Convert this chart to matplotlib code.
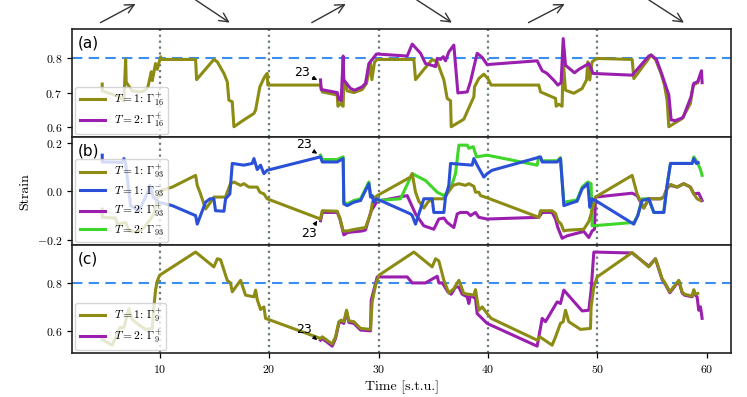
import matplotlib
matplotlib.use("Agg")
import matplotlib.pyplot as plt

plt.rcParams["font.family"] = "serif"
plt.rcParams["font.serif"] = ["cmr10"]
plt.rcParams["mathtext.fontset"] = "cm"
plt.rcParams["axes.formatter.use_mathtext"] = True

# ---- data ----
# panel (a): Gamma_16^+
t_a1 = [4.76, 4.76, 6.29, 6.74, 6.90, 6.95, 7.50, 8.26, 8.72, 8.94, 9.24, 9.33, 9.63, 9.79, 10.09, 10.15,
        13.29, 13.38, 14.96, 15.27, 15.88, 16.18, 16.33, 16.64, 16.79, 17.70, 18.62, 18.77, 19.16, 19.38,
        19.59, 19.83, 19.89, 24.70, 24.86, 26.23, 26.29, 26.53, 26.77, 26.83, 27.14, 27.75, 28.51, 28.90,
        29.27, 29.39, 29.64, 29.88, 33.23, 33.38, 34.90, 35.36, 35.97, 36.27, 36.58, 36.64, 37.79, 38.71,
        38.77, 39.16, 39.62, 39.99, 40.29, 44.64, 44.80, 46.17, 46.23, 46.47, 46.77, 46.87, 47.08, 47.84,
        48.60, 49.00, 49.12, 49.30, 49.51, 49.91, 53.17, 53.32, 54.69, 54.90, 55.30, 55.81, 56.12, 56.36,
        56.52, 57.73, 58.49, 58.74, 59.16, 59.20]
v_a1 = [0.725, 0.705, 0.688, 0.676, 0.797, 0.730, 0.705, 0.702, 0.707, 0.717, 0.761, 0.735, 0.785, 0.768, 0.805, 0.797,
        0.797, 0.738, 0.797, 0.790, 0.756, 0.732, 0.678, 0.673, 0.600, 0.620, 0.639, 0.649, 0.717, 0.732,
        0.746, 0.756, 0.722, 0.722, 0.702, 0.693, 0.660, 0.668, 0.660, 0.737, 0.705, 0.700, 0.709, 0.727,
        0.785, 0.738, 0.790, 0.797, 0.797, 0.738, 0.797, 0.790, 0.737, 0.683, 0.676, 0.600, 0.622, 0.688,
        0.717, 0.741, 0.754, 0.741, 0.722, 0.722, 0.702, 0.683, 0.660, 0.666, 0.660, 0.795, 0.707, 0.698,
        0.712, 0.737, 0.790, 0.737, 0.790, 0.800, 0.797, 0.741, 0.800, 0.810, 0.797, 0.756, 0.722, 0.678,
        0.600, 0.624, 0.668, 0.722, 0.729, 0.732]
t_a2 = [24.70, 24.76, 26.23, 26.38, 26.59, 26.77, 26.83, 27.44, 27.81, 28.51, 28.81, 29.12, 29.42, 29.82,
        32.62, 33.08, 33.84, 34.29, 35.05, 35.21, 35.36, 35.66, 35.91, 36.12, 36.42, 36.88, 37.25, 38.10,
        38.40, 39.01, 39.47, 39.92, 44.49, 44.95, 45.40, 46.07, 46.38, 46.68, 46.87, 47.08, 47.90, 48.30,
        49.21, 49.61, 53.17, 54.69, 54.90, 55.39, 55.91, 56.21, 56.52, 56.73, 57.12, 57.82, 58.55, 58.80,
        59.16, 59.50, 59.56]
v_a2 = [0.737, 0.709, 0.700, 0.680, 0.676, 0.807, 0.737, 0.712, 0.707, 0.717, 0.727, 0.785, 0.797, 0.813,
        0.807, 0.842, 0.815, 0.785, 0.778, 0.776, 0.800, 0.797, 0.805, 0.793, 0.819, 0.839, 0.699, 0.702,
        0.732, 0.815, 0.803, 0.782, 0.793, 0.764, 0.756, 0.734, 0.722, 0.729, 0.858, 0.780, 0.758, 0.768,
        0.785, 0.756, 0.751, 0.807, 0.810, 0.797, 0.751, 0.722, 0.693, 0.620, 0.618, 0.627, 0.688, 0.727,
        0.732, 0.764, 0.729]

# panel (b): Gamma_93^+ / Gamma_93^-
t_b1p = [4.76, 4.76, 5.98, 6.13, 6.90, 7.20, 7.96, 8.57, 9.18, 9.48, 9.79, 10.09, 11.16, 13.29, 13.44, 13.74,
         14.20, 14.66, 14.96, 16.03, 16.18, 16.48, 16.79, 17.40, 17.70, 18.16, 18.92, 19.16, 19.53, 19.83,
         24.70, 24.86, 26.23, 26.47, 26.77, 27.14, 27.75, 28.51, 28.81, 29.27, 29.45, 29.73, 29.88, 32.92,
         33.08, 33.38, 33.68, 34.14, 34.51, 34.90, 35.97, 36.27, 36.58, 36.82, 37.34, 37.95, 38.25, 38.71,
         38.86, 39.16, 39.32, 39.92, 44.64, 44.80, 45.86, 46.17, 46.38, 46.68, 46.93, 47.23, 48.75, 49.21,
         49.51, 49.82, 53.17, 53.62, 54.23, 54.69, 55.75, 56.06, 56.36, 56.67, 57.28, 57.88, 58.49, 58.80,
         59.10, 59.40]
v_b1p = [-0.072, -0.106, -0.109, -0.134, -0.127, -0.161, -0.168, -0.148, -0.113, -0.092, -0.030, 0.004, 0.018,
         0.066, 0.025, -0.010, -0.072, -0.044, -0.023, -0.023, -0.003, 0.032, 0.039, 0.025, 0.032, 0.018,
         0.018, -0.003, -0.010, -0.030, -0.113, -0.079, -0.081, -0.109, -0.162, -0.162, -0.156, -0.150,
         -0.148, -0.092, -0.044, -0.023, -0.017, 0.059, 0.073, -0.003, -0.040, -0.068, -0.044, -0.030,
         -0.030, -0.010, 0.011, 0.025, 0.032, 0.025, 0.032, 0.021, -0.003, -0.003, -0.017, -0.026, -0.106,
         -0.079, -0.079, -0.090, -0.120, -0.134, -0.162, -0.159, -0.155, -0.123, -0.079, -0.023, 0.066,
         -0.010, -0.068, -0.030, -0.030, -0.023, 0.011, 0.029, 0.018, 0.032, 0.018, -0.010, -0.030, -0.037]
t_b1m = [4.76, 4.76, 6.59, 6.74, 6.90, 7.35, 8.11, 8.72, 9.12, 9.42, 9.94, 11.16, 13.29, 13.44, 14.20, 14.60,
         14.96, 15.11, 15.88, 16.03, 16.42, 16.64, 17.70, 18.46, 18.62, 18.92, 19.22, 19.53, 19.83, 24.70,
         24.86, 26.23, 26.77, 26.83, 27.14, 27.75, 28.36, 28.81, 29.12, 29.27, 29.42, 29.57, 29.82, 32.92,
         33.08, 33.38, 34.14, 34.90, 35.05, 35.97, 36.12, 36.42, 36.58, 38.55, 38.71, 39.01, 39.62, 39.92,
         40.38, 44.80, 44.95, 46.32, 46.62, 46.93, 47.84, 48.14, 48.60, 49.12, 49.30, 49.51, 49.82, 53.32,
         53.68, 54.08, 54.69, 55.15, 56.06, 56.36, 56.67, 58.65, 58.80, 59.04, 59.20]
v_b1m = [0.149, 0.121, 0.119, 0.135, 0.115, -0.058, -0.079, -0.023, 0.025, -0.023, -0.044, -0.058, -0.099,
         -0.134, -0.044, -0.030, -0.030, -0.079, -0.081, -0.030, -0.010, 0.115, 0.108, 0.115, 0.135, 0.090,
         0.108, 0.073, 0.087, 0.142, 0.121, 0.121, 0.135, -0.051, -0.058, -0.044, -0.037, 0.004, 0.032,
         -0.023, -0.017, -0.044, -0.030, -0.092, -0.099, -0.134, -0.030, -0.030, -0.086, -0.086, -0.023,
         0.025, 0.115, 0.108, 0.135, 0.108, 0.059, 0.073, 0.087, 0.142, 0.121, 0.121, 0.135, -0.058, -0.044,
         -0.040, 0.011, 0.032, -0.065, -0.030, -0.037, -0.134, -0.099, -0.037, -0.030, -0.086, -0.086, 0.025,
         0.115, 0.115, 0.135, 0.115, 0.118]
t_b2p = [24.70, 24.86, 26.23, 26.47, 26.83, 27.20, 28.51, 28.81, 29.33, 29.88, 32.62, 33.38, 34.14, 35.05,
         35.51, 35.97, 36.27, 36.88, 37.19, 37.49, 38.10, 38.40, 38.86, 39.16, 39.92, 44.64, 44.95, 45.86,
         46.17, 46.38, 46.77, 47.23, 48.75, 49.21, 49.51, 49.73, 49.82, 53.17, 53.62, 54.23, 54.69, 55.75,
         56.06, 56.36, 56.67, 57.28, 57.88, 58.49, 58.80, 59.25, 59.56]
v_b2p = [-0.120, -0.086, -0.086, -0.112, -0.178, -0.168, -0.162, -0.158, -0.079, -0.040, -0.017, -0.092,
         -0.141, -0.155, -0.113, -0.109, -0.127, -0.148, -0.092, -0.086, -0.086, -0.099, -0.086, -0.106,
         -0.113, -0.106, -0.086, -0.086, -0.113, -0.148, -0.192, -0.182, -0.164, -0.189, -0.162, -0.155,
         -0.023, -0.007, -0.017, -0.068, -0.030, -0.030, -0.023, 0.015, 0.025, 0.018, 0.032, 0.018, -0.010,
         -0.007, -0.037]
t_b2m = [24.70, 24.86, 26.23, 26.77, 26.83, 27.14, 27.75, 28.36, 28.81, 29.12, 29.27, 29.88, 32.01, 33.08,
         34.29, 35.36, 35.97, 36.58, 37.03, 37.34, 38.10, 38.25, 38.65, 38.95, 39.92, 44.49, 44.64, 44.95,
         46.32, 46.62, 46.93, 47.84, 48.14, 48.60, 49.12, 49.42, 49.51, 53.32, 53.68, 54.08, 54.69, 55.15,
         56.06, 56.36, 56.67, 58.65, 58.80, 59.10, 59.41, 59.56]
v_b2m = [0.149, 0.131, 0.131, 0.142, -0.044, -0.051, -0.037, -0.030, 0.011, 0.039, -0.012, -0.037, -0.030,
         0.073, 0.045, -0.003, -0.017, 0.011, 0.073, 0.190, 0.190, 0.177, 0.184, 0.142, 0.149, 0.108, 0.142,
         0.126, 0.126, 0.139, -0.044, -0.037, -0.034, 0.018, 0.039, 0.032, -0.141, -0.127, -0.099, -0.030,
         -0.030, -0.086, -0.086, 0.025, 0.115, 0.115, 0.142, 0.121, 0.090, 0.066]

# panel (c): Gamma_9^+
t_c1 = [4.76, 5.68, 6.38, 6.74, 7.20, 7.50, 8.26, 8.72, 9.33, 9.48, 9.63, 9.79, 10.00, 13.29, 14.96, 15.27,
        15.57, 16.18, 16.48, 16.64, 17.40, 17.70, 17.85, 18.62, 18.77, 18.92, 19.22, 19.53, 19.68, 24.70,
        24.86, 25.77, 26.07, 26.38, 26.59, 26.83, 27.08, 27.29, 27.75, 28.36, 29.27, 29.42, 29.73, 30.03,
        33.23, 34.90, 35.21, 35.51, 35.97, 36.42, 36.88, 37.34, 37.79, 38.71, 38.86, 39.16, 39.47, 39.92,
        40.29, 44.49, 44.73, 45.86, 46.17, 46.62, 46.87, 47.08, 47.38, 48.45, 49.36, 49.42, 49.67, 49.97,
        53.17, 54.69, 55.30, 55.51, 55.91, 56.21, 56.61, 57.43, 57.73, 57.95, 58.65, 58.80, 58.95, 59.16]
v_c1 = [0.564, 0.540, 0.614, 0.614, 0.693, 0.647, 0.620, 0.606, 0.610, 0.700, 0.770, 0.808, 0.832, 0.929,
        0.867, 0.901, 0.897, 0.811, 0.800, 0.763, 0.811, 0.770, 0.749, 0.742, 0.770, 0.731, 0.689, 0.700,
        0.652, 0.568, 0.575, 0.545, 0.575, 0.638, 0.645, 0.638, 0.686, 0.642, 0.638, 0.610, 0.606, 0.721,
        0.790, 0.832, 0.929, 0.867, 0.901, 0.892, 0.811, 0.758, 0.776, 0.811, 0.756, 0.749, 0.772, 0.686,
        0.700, 0.672, 0.652, 0.561, 0.575, 0.540, 0.575, 0.631, 0.638, 0.686, 0.638, 0.606, 0.610, 0.700,
        0.783, 0.825, 0.927, 0.867, 0.901, 0.874, 0.818, 0.797, 0.763, 0.811, 0.763, 0.753, 0.745, 0.772,
        0.753, 0.756]
t_c2 = [24.70, 24.86, 25.77, 26.07, 26.38, 26.59, 26.83, 27.08, 27.29, 27.75, 28.36, 29.27, 29.33, 29.88,
        32.62, 33.08, 34.29, 35.36, 35.51, 35.82, 35.97, 36.33, 36.64, 37.03, 37.34, 37.64, 38.10, 38.25,
        38.40, 38.86, 39.01, 39.92, 44.49, 44.95, 45.25, 46.32, 46.62, 46.93, 48.60, 49.21, 49.42, 49.67,
        53.17, 54.69, 55.30, 55.51, 55.91, 56.21, 56.61, 57.43, 57.73, 57.95, 58.65, 58.80, 58.95, 59.10,
        59.25, 59.41, 59.56]
v_c2 = [0.561, 0.568, 0.536, 0.568, 0.631, 0.638, 0.631, 0.679, 0.635, 0.631, 0.603, 0.600, 0.728, 0.825,
        0.825, 0.800, 0.800, 0.828, 0.800, 0.800, 0.790, 0.763, 0.753, 0.783, 0.783, 0.753, 0.742, 0.714,
        0.749, 0.735, 0.672, 0.631, 0.536, 0.652, 0.638, 0.721, 0.714, 0.770, 0.683, 0.686, 0.770, 0.929,
        0.925, 0.870, 0.901, 0.870, 0.814, 0.793, 0.759, 0.808, 0.759, 0.749, 0.742, 0.768, 0.749, 0.742,
        0.686, 0.700, 0.652]

# branching point label and driving arrows above the plot
branch_label = "23"
arrow_t = [(4.6, 7.8), (13.3, 16.4), (23.9, 27.0), (33.5, 36.7), (43.7, 47.0), (54.7, 57.9)]
arrow_dir = ["up", "down", "up", "down", "up", "down"]

c_olive = "#8c8c14"
c_purple = "#9a1fae"
c_blue = "#2a50d8"
c_green = "#3fd62a"
c_ref = "#3a8ef0"
c_grid = "#6b7a7a"

fig = plt.figure(figsize=(7.47, 3.97), dpi=100)
axes = fig.subplots(3, 1, sharex=True, gridspec_kw=dict(hspace=0))
fig.subplots_adjust(left=0.0964, right=0.9786, top=0.926, bottom=0.110)
ax_a, ax_b, ax_c = axes

lw = 2.2
ax_a.plot(t_a1, v_a1, color=c_olive, lw=lw, label=r"$T=1$: $\Gamma_{16}^{+}$")
ax_a.plot(t_a2, v_a2, color=c_purple, lw=lw, label=r"$T=2$: $\Gamma_{16}^{+}$")

ax_b.plot(t_b1p, v_b1p, color=c_olive, lw=lw, label=r"$T=1$: $\Gamma_{93}^{+}$")
ax_b.plot(t_b1m, v_b1m, color=c_blue, lw=lw, label=r"$T=1$: $\Gamma_{93}^{-}$")
ax_b.plot(t_b2p, v_b2p, color=c_purple, lw=lw, label=r"$T=2$: $\Gamma_{93}^{+}$", zorder=1.9)
ax_b.plot(t_b2m, v_b2m, color=c_green, lw=lw, label=r"$T=2$: $\Gamma_{93}^{-}$", zorder=1.9)

ax_c.plot(t_c1, v_c1, color=c_olive, lw=lw, label=r"$T=1$: $\Gamma_{9}^{+}$")
ax_c.plot(t_c2, v_c2, color=c_purple, lw=lw, label=r"$T=2$: $\Gamma_{9}^{+}$", zorder=1.9)

for ax in axes:
    for x in [10, 20, 30, 40, 50]:
        ax.axvline(x, color=c_grid, ls=":", lw=1.6, zorder=0.5)
    for s in ax.spines.values():
        s.set_linewidth(1.2)
        s.set_color("#222222")
    ax.tick_params(labelsize=8.5, length=3.5, width=0.9)
ax_a.axhline(0.8, color=c_ref, ls="--", lw=1.5, dashes=(5, 3), zorder=0.6)
ax_c.axhline(0.8, color=c_ref, ls="--", lw=1.5, dashes=(5, 3), zorder=0.6)

ax_a.set_ylim(0.569, 0.885)
ax_a.set_yticks([0.6, 0.7, 0.8])
ax_b.set_ylim(-0.221, 0.222)
ax_b.set_yticks([-0.2, 0.0, 0.2])
ax_c.set_ylim(0.506, 0.957)
ax_c.set_yticks([0.6, 0.8])
ax_c.set_xlim(2.0, 62.2)
ax_c.set_xticks([10, 20, 30, 40, 50, 60])

for ax, lab in zip(axes, ["(a)", "(b)", "(c)"]):
    ax.text(0.008, 0.87, lab, transform=ax.transAxes, fontsize=11,
            family="DejaVu Sans", va="center", ha="left")
    ax.legend(loc="lower left", fontsize=8.3, borderaxespad=0.3, handlelength=2.2,
              labelspacing=0.25, borderpad=0.35, framealpha=0.8)

ax_b.set_ylabel("Strain", fontsize=10)
ax_c.set_xlabel("Time [s.t.u.]", fontsize=10)

ann = dict(arrowstyle="-|>", color="black", lw=0.8, mutation_scale=6, shrinkA=0, shrinkB=0)
for ax, tt, vv, off in [(ax_a, t_a2, v_a2, (-11, 5.5)), (ax_b, t_b2m, v_b2m, (-9.5, 6.3)),
                        (ax_b, t_b2p, v_b2p, (-6.2, -9.5)), (ax_c, t_c2, v_c2, (-9.2, 8))]:
    ax.annotate(branch_label, xy=(tt[0] - 0.3, vv[0] + (0.006 if ax is ax_b and off[1] > 0 else 0)),
                xytext=off, textcoords="offset points", ha="center", va="center",
                fontsize=9, family="DejaVu Sans", arrowprops=ann)

for (t0, t1), d in zip(arrow_t, arrow_dir):
    y0, y1 = (0.943, 0.99) if d == "up" else (1.0, 0.943)
    ax_a.annotate("", xy=(t1, y1), xytext=(t0, y0), xycoords=("data", "figure fraction"),
                  textcoords=("data", "figure fraction"), annotation_clip=False,
                  arrowprops=dict(arrowstyle="->", color="#333333", lw=1.0, mutation_scale=16,
                                  shrinkA=0, shrinkB=0))

fig.savefig("out.png", dpi=100)
